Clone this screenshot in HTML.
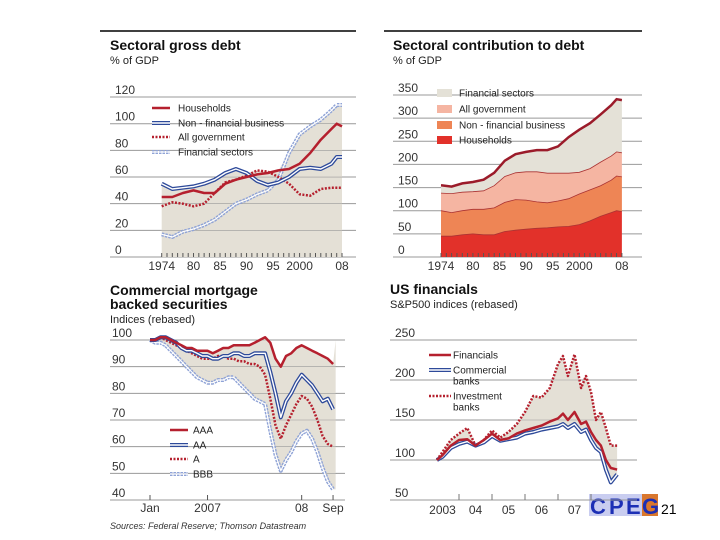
<!DOCTYPE html>
<html><head><meta charset="utf-8"><style>
body{margin:0;background:#fff;width:720px;height:540px;overflow:hidden}
svg{display:block}
text{font-family:"Liberation Sans",sans-serif}
.t{font-weight:bold;font-size:14px;fill:#111}
.s{font-size:11px;fill:#222}
.k{font-size:12px;fill:#333}
.l{font-size:10px;fill:#222}
.g{stroke:#999;stroke-width:1}
</style></head><body>
<svg id="svg" width="720" height="540" xmlns="http://www.w3.org/2000/svg">
<line x1="100" y1="31" x2="356" y2="31" stroke="#000" stroke-width="1.5"/>
<line x1="384" y1="31" x2="642" y2="31" stroke="#000" stroke-width="1.5"/>
<text class="t" x="110" y="50">Sectoral gross debt</text>
<text class="s" x="110" y="64">% of GDP</text>
<text class="t" x="393" y="50">Sectoral contribution to debt</text>
<text class="s" x="393" y="64">% of GDP</text>
<text class="t" x="110" y="295">Commercial mortgage</text>
<text class="t" x="110" y="309">backed securities</text>
<text class="s" x="110" y="323">Indices (rebased)</text>
<text class="t" x="390" y="294">US financials</text>
<text class="s" x="390" y="308">S&amp;P500 indices (rebased)</text>
<text x="110" y="529" font-size="9" font-style="italic" fill="#333">Sources: Federal Reserve; Thomson Datastream</text>
<g>
<rect x="589" y="494" width="53" height="22" fill="#c9cdf0"/>
<rect x="642" y="494" width="16" height="22" fill="#d9772e"/>
<text x="590" y="514" font-size="22" font-weight="bold" fill="#1c2fb5">C</text>
<text x="609" y="514" font-size="22" font-weight="bold" fill="#1c2fb5">P</text>
<text x="626" y="514" font-size="22" font-weight="bold" fill="#1c2fb5">E</text>
<text x="642" y="514" font-size="22" font-weight="bold" fill="#1c2fb5">G</text>
</g>
<text x="661" y="514" font-size="14" fill="#000">21</text>
</svg>
<script>
// ---- Panel 1 & 2 data ----
const years=[1974,1976,1978,1980,1982,1984,1986,1988,1990,1992,1994,1996,1998,2000,2002,2004,2006,2007,2008];
const households=[45,45,48,50,48,48,55,58,60,62,63,65,66,70,78,88,96,100,98];
const nonFinancial=[55,51,52,53,55,58,63,66,63,57,54,56,60,66,67,66,70,75,75];
const government=[38,41,40,38,40,48,56,58,61,65,64,60,55,47,46,51,52,52,52];
const financial=[17,15,19,21,24,28,34,40,43,47,50,58,78,92,98,103,110,114,114];
const p1Ticks=[0,20,40,60,80,100,120];
const p2Ticks=[0,50,100,150,200,250,300,350];
const yearLabels=["1974","80","85","90","95","2000","08"];
const yearLabelVals=[1974,1980,1985,1990,1995,2000,2008];
// ---- Panel 3 data ----
const cmbsIndex=[0,1,2,3,4,5,6,7,8,9,10,11,12,13,14,15,16,17,18,19,20,21,22,23,24,25,26,27,28,29,30,31,32,33,34,35];
const aaa=[100,100,101,101,100,99,98,97,97,96,96,96,95,96,97,97,98,98,98,98,99,100,101,99,93,90,94,95,97,98,97,96,95,94,93,91];
const aa=[100,100,101,101,100,99,97,96,96,95,94,94,93,93,94,94,95,95,94,94,95,95,95,88,80,71,77,80,84,87,85,83,80,77,78,74];
const aRated=[100,100,101,100,99,98,97,96,95,94,93,93,93,94,94,93,93,92,92,91,91,90,87,78,68,63,68,72,76,79,78,75,70,64,61,60];
const bbb=[100,99,99,98,96,94,92,90,88,86,85,84,84,85,85,86,86,84,82,80,78,77,76,66,57,51,55,58,62,65,66,63,58,52,47,44];
const p3Ticks=[40,50,60,70,80,90,100];
const p3Labels=["Jan","2007","08","Sep"];
const p3LabelIdx=[0,11,29,35];
// ---- Panel 4 data ----
const finDates=[2003.33,2003.5,2003.75,2004,2004.25,2004.5,2004.75,2005,2005.25,2005.5,2005.75,2006,2006.25,2006.5,2006.75,2007,2007.15,2007.3,2007.5,2007.7,2007.85,2008,2008.15,2008.3,2008.45,2008.6,2008.79];
const financials=[100,106,118,125,126,118,125,133,125,127,133,137,140,143,148,152,158,150,160,145,148,135,125,118,100,90,88];
const commercialBanks=[100,104,115,120,123,118,122,130,124,126,128,133,135,138,140,142,145,140,145,135,138,125,115,110,88,72,82];
const investmentBanks=[100,110,125,133,140,118,125,137,128,135,145,160,180,178,190,220,230,205,232,190,205,185,150,160,140,118,118];
const p4Ticks=[50,100,150,200,250];
const p4Labels=["2003","04","05","06","07"];
const p4LabelVals=[2003.5,2004.5,2005.5,2006.5,2007.5];

const svg=document.getElementById('svg');
const NS="http://www.w3.org/2000/svg";
function mk(tag,attrs){const e=document.createElementNS(NS,tag);for(const k in attrs)e.setAttribute(k,attrs[k]);svg.appendChild(e);return e;}
function pts(xs,ys,fx,fy){return xs.map((x,i)=>fx(x).toFixed(1)+','+fy(ys[i]).toFixed(1)).join(' ');}

const x1=y=>161.7+(y-1974)*5.303, y1=v=>257-v*1.333;
const x2=y=>441+(y-1974)*5.32, y2=v=>257-v*0.4629;
const x3=i=>150+i*5.23, y3=v=>340+(100-v)*2.667;
const x4=y=>426+(y-2003)*33, y4=v=>340+(250-v)*0.8;

function grid(ticks,fy,xa,xb,lx,name){
  ticks.forEach(t=>{
    const ln=mk('line',{x1:xa,x2:xb,y1:fy(t),y2:fy(t),class:'g'});
    if(t===ticks[0]){ln.setAttribute('stroke','#555');ln.setAttribute('stroke-width','1.5');}
    
    
    const tx=mk('text',{x:lx,y:fy(t)-3,class:'k'});tx.textContent=t;
    
    
  });
}
function xlabels(labels,vals,fx,y,name){
  labels.forEach((s,i)=>{
    const tx=mk('text',{x:fx(vals[i]),y:y,class:'k','text-anchor':'middle'});tx.textContent=s;
    
    
  });
}
function styled(kind){
  const n=[];
  if(kind==='red'){n.push({stroke:'#b5202e','stroke-width':2.5});}
  if(kind==='blue'){n.push({stroke:'#2e4a9a','stroke-width':4});n.push({stroke:'#fff','stroke-width':1.4});}
  if(kind==='reddot'){n.push({stroke:'#b5202e','stroke-width':2.5,'stroke-dasharray':'2,1.5'});}
  if(kind==='bluedot'){n.push({stroke:'#8fa3d6','stroke-width':4,'stroke-dasharray':'2.5,1'});n.push({stroke:'#fff','stroke-width':1.2});}
  return n;
}
function series(points,kind,name){
  styled(kind).forEach(a=>{
    const e=mk('polyline',Object.assign({points:points,fill:'none','stroke-linejoin':'round'},a));
    
    
  });
}
function legendLine(xa,xb,y,kind,label,name,tx){
  series(xa+','+y+' '+xb+','+y,kind,name+'-legend-swatch');
  const t=mk('text',{x:tx,y:y+3.5,class:'l'});t.textContent=label;
  
  
}

// ---- Panel 1 ----
grid(p1Ticks,y1,110,356,115,'gross-debt');
{
  const top=years.map((y,i)=>Math.max(households[i],nonFinancial[i],government[i],financial[i]));
  const e=mk('polygon',{points:pts(years,top,x1,y1)+' '+x1(2008)+','+y1(0)+' '+x1(1974)+','+y1(0),fill:'#e4e0d6'});
  
  
}
p1Ticks.slice(1).forEach(t=>{const l=mk('line',{x1:x1(1974),x2:x1(2008),y1:y1(t),y2:y1(t),stroke:'#999','stroke-width':0.6});});
series(pts(years,financial,x1,y1),'bluedot','financial-sectors-line');
series(pts(years,government,x1,y1),'reddot','all-government-line');
series(pts(years,nonFinancial,x1,y1),'blue','non-financial-business-line');
series(pts(years,households,x1,y1),'red','households-line');
for(let y=1974;y<=2008;y++){const l=mk('line',{x1:x1(y),x2:x1(y),y1:257,y2:253,stroke:'#555'});}
xlabels(yearLabels,yearLabelVals,x1,270,'gross-debt');
legendLine(152,170,108,'red','Households','households',178);
legendLine(152,170,123,'blue','Non - financial business','non-financial-business',178);
legendLine(152,170,137,'reddot','All government','all-government',178);
legendLine(152,170,152,'bluedot','Financial sectors','financial-sectors',178);

// ---- Panel 2 ----
grid(p2Ticks,y2,393,642,398,'contribution');
{
  const c1=households, c2=households.map((v,i)=>v+nonFinancial[i]), c3=c2.map((v,i)=>v+government[i]), c4=c3.map((v,i)=>v+financial[i]);
  const layers=[[c4,c3,'#e4e1d7','financial-sectors-area'],[c3,c2,'#f5b5a2','all-government-area'],[c2,c1,'#ee8555','non-financial-business-area'],[c1,null,'#e2312a','households-area']];
  layers.forEach(L=>{
    const top=pts(years,L[0],x2,y2);
    const bot=L[1]?pts(years.slice().reverse(),L[1].slice().reverse(),x2,y2):(x2(2008)+','+y2(0)+' '+x2(1974)+','+y2(0));
    const e=mk('polygon',{points:top+' '+bot,fill:L[2]});
    
    
  });
  [c1,c2,c3].forEach(c=>{const e=mk('polyline',{points:pts(years,c,x2,y2),fill:'none',stroke:'#a33',"stroke-width":0.8});});
  const tl=mk('polyline',{points:pts(years,c4,x2,y2),fill:'none',stroke:'#9b1b2a','stroke-width':2.5});
  
  
}
for(let y=1974;y<=2008;y++){const l=mk('line',{x1:x2(y),x2:x2(y),y1:257,y2:253,stroke:'#555'});}
xlabels(yearLabels,yearLabelVals,x2,270,'contribution');
[['#e4e1d7','Financial sectors',93],['#f5b5a2','All government',109],['#ee8555','Non - financial business',125],['#e2312a','Households',140]].forEach(d=>{
  const r=mk('rect',{x:437,y:d[2]-4,width:15,height:8,fill:d[0]});
  
  
  const t=mk('text',{x:459,y:d[2]+3.5,class:'l'});t.textContent=d[1];
  
  
});

// ---- Panel 3 ----
grid(p3Ticks,y3,110,345,112,'cmbs');
{
  const e=mk('polygon',{points:pts(cmbsIndex,aaa,x3,y3)+' '+x3(35.5)+','+y3(100)+' '+x3(35.5)+','+y3(44)+' '+pts(cmbsIndex.slice().reverse(),bbb.slice().reverse(),x3,y3),fill:'#e4e0d6'});
  
  
}
p3Ticks.slice(1).forEach(t=>{const l=mk('line',{x1:150,x2:337,y1:y3(t),y2:y3(t),stroke:'#999','stroke-width':0.6});});
series(pts(cmbsIndex,bbb,x3,y3),'bluedot','bbb-line');
series(pts(cmbsIndex,aRated,x3,y3),'reddot','a-line');
series(pts(cmbsIndex,aa,x3,y3),'blue','aa-line');
series(pts(cmbsIndex,aaa,x3,y3),'red','aaa-line');
p3LabelIdx.forEach(i=>{const l=mk('line',{x1:x3(i),x2:x3(i),y1:500,y2:495,stroke:'#555'});});
xlabels(p3Labels,p3LabelIdx,x3,512,'cmbs');
legendLine(170,188,430,'red','AAA','aaa',193);
legendLine(170,188,445,'blue','AA','aa',193);
legendLine(170,188,459,'reddot','A','a',193);
legendLine(170,188,474,'bluedot','BBB','bbb',193);

// ---- Panel 4 ----
grid(p4Ticks,y4,390,637,395,'financials');
{
  const e=mk('polygon',{points:pts(finDates,investmentBanks,x4,y4)+' '+pts(finDates.slice().reverse(),commercialBanks.slice().reverse(),x4,y4),fill:'#e4e0d6'});
  
  
}
[100,150,200].forEach(t=>{const l=mk('line',{x1:437,x2:617,y1:y4(t),y2:y4(t),stroke:'#999','stroke-width':0.6});});
series(pts(finDates,investmentBanks,x4,y4),'reddot','investment-banks-line');
series(pts(finDates,commercialBanks,x4,y4),'blue','commercial-banks-line');
series(pts(finDates,financials,x4,y4),'red','financials-line');
[2004,2005,2006,2007,2008].forEach(y=>{const l=mk('line',{x1:x4(y),x2:x4(y),y1:500,y2:494,stroke:'#777'});});
xlabels(p4Labels,p4LabelVals,x4,514,'financials');
legendLine(429,451,355,'red','Financials','financials',453);
legendLine(429,451,370,'blue','Commercial','commercial-banks',453);
legendLine(429,451,396,'reddot','Investment','investment-banks',453);
[['banks',381],['banks',407]].forEach(d=>{const t=mk('text',{x:453,y:d[1]+3.5,class:'l'});t.textContent=d[0];});
</script>
</body></html>
